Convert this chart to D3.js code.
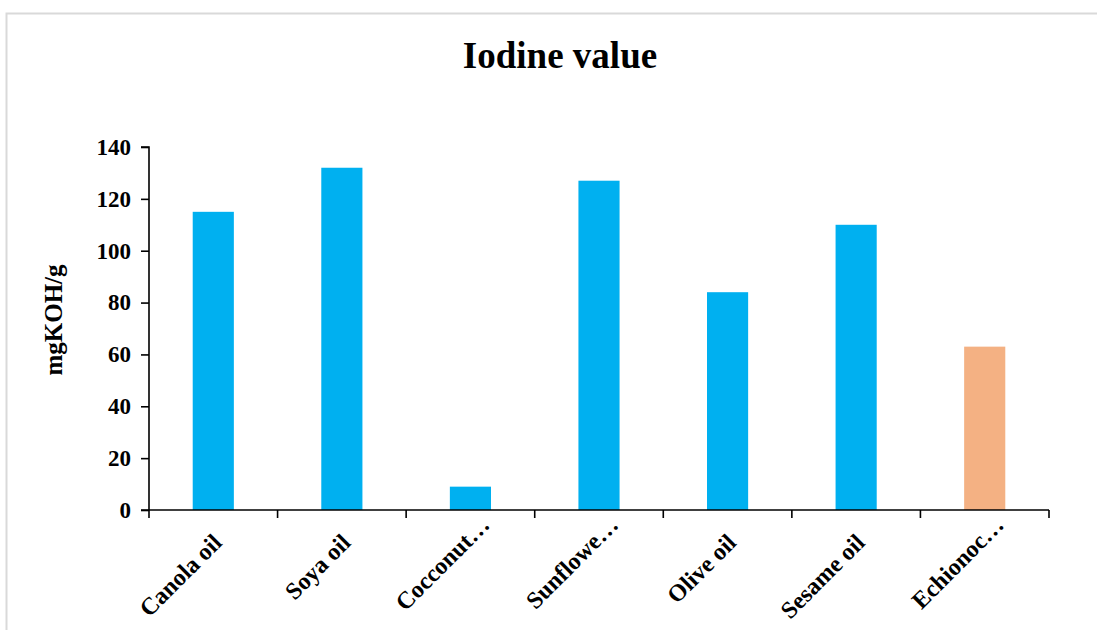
<!DOCTYPE html>
<html>
<head>
<meta charset="utf-8">
<script src="https://cdn.jsdelivr.net/npm/d3@7"></script>
<style>
  html, body { margin: 0; padding: 0; background: #fff; }
  svg { display: block; }
  text { font-family: "Liberation Serif", "Times New Roman", serif; font-weight: bold; fill: #000; }
</style>
</head>
<body>
<svg id="chart" width="1097" height="630"></svg>
<script>
// Iodine value of several vegetable oils
const categories = ["Canola oil", "Soya oil", "Cocconut…", "Sunflowe…", "Olive oil", "Sesame oil", "Echionoc…"];
const values = [115, 132, 9, 127, 84, 110, 63];
const barColors = ["#00B0F0", "#00B0F0", "#00B0F0", "#00B0F0", "#00B0F0", "#00B0F0", "#F4B183"];
const yTicks = [0, 20, 40, 60, 80, 100, 120, 140];

const svg = d3.select("#chart");
const W = 1097, H = 630;
const margin = { left: 149, right: 48, top: 147, bottom: 120 };

// outer frame
svg.append("path")
  .attr("d", `M6.5,${H} L6.5,13.5 L${W},13.5`)
  .attr("fill", "none")
  .attr("stroke", "#d9d9d9")
  .attr("stroke-width", 2);

// title
svg.append("text")
  .attr("x", 560).attr("y", 68)
  .attr("text-anchor", "middle")
  .attr("font-size", 37)
  .text("Iodine value");

const x = d3.scaleBand()
  .domain(categories)
  .range([margin.left, W - margin.right])
  .paddingInner(0.68)
  .paddingOuter(0.34);

const y = d3.scaleLinear()
  .domain([0, 140])
  .range([H - margin.bottom, margin.top]);

// bars
svg.append("g").selectAll("rect")
  .data(categories)
  .join("rect")
  .attr("x", d => x(d))
  .attr("width", x.bandwidth())
  .attr("y", (d, i) => y(values[i]))
  .attr("height", (d, i) => y(0) - y(values[i]))
  .attr("fill", (d, i) => barColors[i]);

// y axis
const yAxis = svg.append("g")
  .attr("transform", `translate(${margin.left},0)`)
  .call(d3.axisLeft(y).tickValues(yTicks).tickSize(8).tickPadding(10));
yAxis.selectAll("text").attr("font-size", 23).attr("font-family", null);
yAxis.selectAll("line, path").attr("stroke", "#000").attr("stroke-width", 1.6);
yAxis.select(".domain").attr("d", `M-8,${y(140)}H0V${y(0)}`);

// x axis: ticks at category boundaries
const step = x.step();
const boundaries = d3.range(categories.length + 1).map(i => margin.left + i * step);
const xg = svg.append("g");
xg.append("line")
  .attr("x1", margin.left - 8).attr("x2", boundaries[boundaries.length - 1])
  .attr("y1", y(0)).attr("y2", y(0))
  .attr("stroke", "#000").attr("stroke-width", 1.6);
xg.selectAll("line.tick")
  .data(boundaries)
  .join("line")
  .attr("class", "tick")
  .attr("x1", d => d).attr("x2", d => d)
  .attr("y1", y(0)).attr("y2", y(0) + 8)
  .attr("stroke", "#000").attr("stroke-width", 1.6);

// category labels, rotated; truncated names sit a little further along the slant
xg.selectAll("text")
  .data(categories)
  .join("text")
  .attr("text-anchor", "end")
  .attr("font-size", 24)
  .attr("transform", d => `translate(${x(d) + x.bandwidth() / 2 + 10},${y(0) + 34}) rotate(-45)`)
  .attr("dx", d => d.endsWith("…") ? 20 : 0)
  .attr("dy", d => d.endsWith("…") ? -5 : 0)
  .text(d => d);

// y axis title
svg.append("text")
  .attr("transform", `translate(62,320) rotate(-90)`)
  .attr("text-anchor", "middle")
  .attr("font-size", 25)
  .text("mgKOH/g");
</script>
</body>
</html>
